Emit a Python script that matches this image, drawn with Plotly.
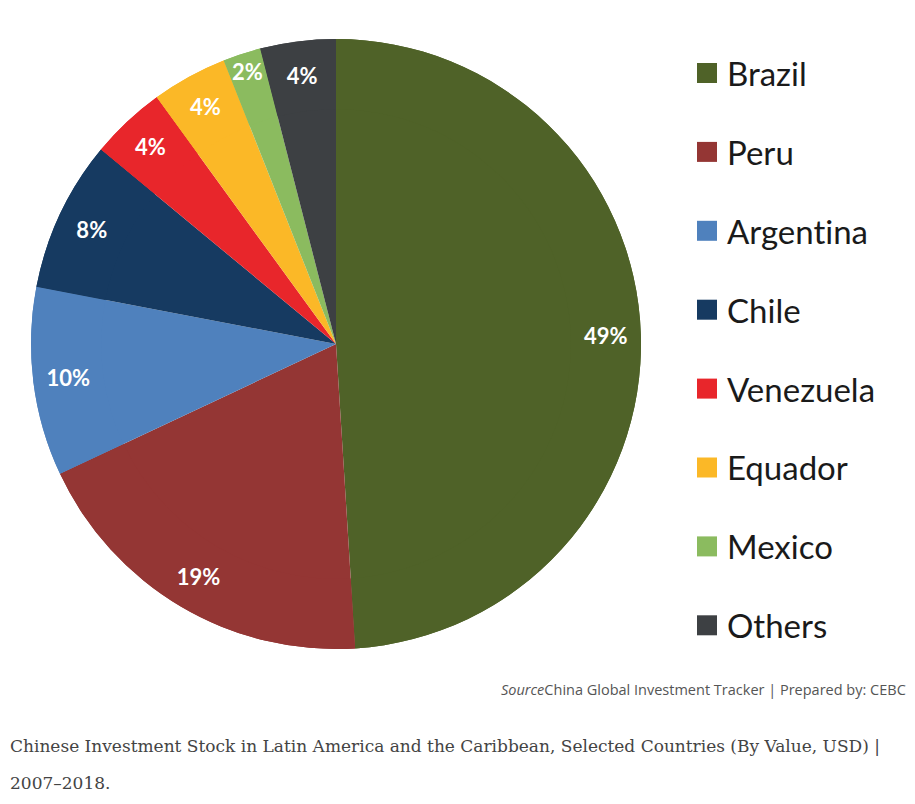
import plotly.graph_objects as go

# Chinese investment stock in LAC, share by country (%)
countries = ["Brazil", "Peru", "Argentina", "Chile", "Venezuela", "Equador", "Mexico", "Others"]
shares = [49, 19, 10, 8, 4, 4, 2, 4]
colors = ["#4F6228", "#943634", "#4F81BD", "#163A61", "#E8262B", "#FBB827", "#8BBB5F", "#3D4043"]

source_note = "<i>Source</i>China Global Investment Tracker | Prepared by: CEBC"
caption_lines = [
    "Chinese Investment Stock in Latin America and the Caribbean, Selected Countries (By Value, USD) |",
    "2007\u20132018.",
]

# the page body has an 8px margin, so the figure is a bit smaller than the window
OFF = 8
W, H = 915 - OFF, 804 - OFF


def px(x):
    return (x - OFF) / W


def py(y):
    return 1 - (y - OFF) / H


pie_dom = dict(x=[px(31), px(641)], y=[py(649), py(39)])

fig = go.Figure()

# full pie underneath (no text)
fig.add_trace(go.Pie(labels=countries, values=shares, sort=False,
                     direction="clockwise", rotation=0,
                     marker=dict(colors=colors, line=dict(width=0)),
                     textinfo="none", domain=pie_dom,
                     showlegend=False, hoverinfo="label+value"))

# ring on top just to place the % labels near the rim
fig.add_trace(go.Pie(labels=countries, values=shares, sort=False,
                     direction="clockwise", rotation=0, hole=0.77,
                     marker=dict(colors=colors, line=dict(width=0)),
                     texttemplate="%{value}%", textposition="inside",
                     insidetextorientation="horizontal",
                     textfont=dict(family="Lato", size=22, color="white", weight="bold"),
                     domain=pie_dom, showlegend=False, hoverinfo="skip"))

annotations = []
shapes = []
# hand made legend, big spacing like the original
for i, (name, col) in enumerate(zip(countries, colors)):
    yc = 73 + i * 78.9
    shapes.append(dict(type="rect", xref="paper", yref="paper",
                       x0=px(697), x1=px(717), y0=py(yc + 10), y1=py(yc - 10),
                       fillcolor=col, line=dict(width=0)))
    annotations.append(dict(text="<span style='font-variant-ligatures:none'>%s</span>" % name,
                            xref="paper", yref="paper",
                            x=px(725), y=py(yc), xanchor="left", yanchor="middle",
                            showarrow=False,
                            font=dict(family="Lato", size=33, color="#1a1a1a")))

annotations.append(dict(text=source_note, xref="paper", yref="paper",
                        x=px(908), y=py(689), xanchor="right", yanchor="middle",
                        showarrow=False,
                        font=dict(family="Open Sans", size=14.5, color="#555555")))

for j, line in enumerate(caption_lines):
    annotations.append(dict(text=line, xref="paper", yref="paper",
                            x=px(8), y=py(746 + j * 37), xanchor="left", yanchor="middle",
                            showarrow=False,
                            font=dict(family="DejaVu Serif", size=17, color="#444444")))

fig.update_layout(width=W, height=H, margin=dict(l=0, r=0, t=0, b=0),
                  paper_bgcolor="white", plot_bgcolor="white",
                  uniformtext=dict(minsize=22, mode="show"),
                  annotations=annotations, shapes=shapes)

fig.write_html("out.html")
